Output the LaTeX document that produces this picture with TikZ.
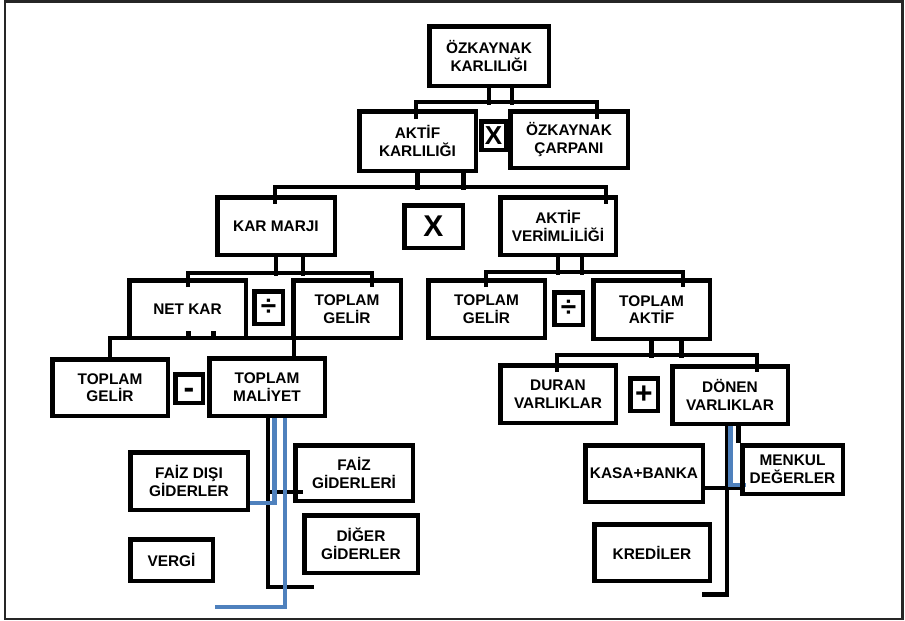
\documentclass[tikz,border=0pt]{standalone}
\usepackage{fontspec}
\setmainfont{Liberation Sans}
\usetikzlibrary{backgrounds}
\definecolor{blueln}{RGB}{79,129,189}
\newcommand{\mybox}[7][]{%
  \node[box,minimum width={(#5-#3-4.5)*1pt},minimum height={(#6-#4-4.5)*1pt},#1] (#2) at ({(#3+#5)/2},{(#4+#6)/2}) {#7};}
\begin{document}
\begin{tikzpicture}[x=1pt,y=-1pt,
  box/.style={draw=black,line width=4.5pt,inner sep=0pt,align=center,font=\fontsize{15.4}{17.5}\selectfont\bfseries},
  opf/.style={font=\fontsize{#1}{#1}\selectfont\bfseries},
  conn/.style={draw=black,line width=4.3pt,line join=miter},
  bconn/.style={draw=blueln,line width=4.3pt,line join=miter}]
\useasboundingbox (0,0) rectangle (905,621);

\mybox{ozk}{427}{24}{551}{88}{ÖZKAYNAK\\KARLILIĞI}
\mybox{akk}{357}{109}{478}{173}{AKTİF\\KARLILIĞI}
\mybox{ozc}{508}{109}{630}{170}{ÖZKAYNAK\\ÇARPANI}
\mybox[opf=26]{xa}{479}{119}{508}{152}{X}
\mybox{km}{215}{195}{337}{257}{KAR MARJI}
\mybox[opf=30]{xb}{402}{203}{465}{250}{X}
\mybox{av}{498}{195}{618}{257}{AKTİF\\VERİMLİLİĞİ}
\mybox{nk}{127}{278}{248}{340}{NET KAR}
\mybox[opf=28]{da}{252}{289}{285}{326}{÷}
\mybox{tga}{291}{278}{403}{340}{TOPLAM\\GELİR}
\mybox{tgb}{426}{278}{547}{340}{TOPLAM\\GELİR}
\mybox[opf=28]{db}{552}{290}{585}{327}{÷}
\mybox{ta}{591}{278}{712}{341}{TOPLAM\\AKTİF}
\mybox{tgc}{50}{357}{170}{418}{TOPLAM\\GELİR}
\mybox[opf=32,text height=20pt,text depth=0pt]{mn}{173}{372}{205}{405}{-}
\mybox{tm}{207}{356}{327}{418}{TOPLAM\\MALİYET}
\mybox{dv}{498}{363}{618}{425}{DURAN\\VARLIKLAR}
\mybox[opf=30]{pl}{628}{376}{660}{413}{+}
\mybox{dn}{670}{364}{790}{426}{DÖNEN\\VARLIKLAR}
\mybox{fdg}{128}{450}{250}{512}{FAİZ DIŞI\\GİDERLER}
\mybox{fg}{293}{443}{415}{503}{FAİZ\\GİDERLERİ}
\mybox{dg}{302}{513}{420}{575}{DİĞER\\GİDERLER}
\mybox{vg}{128}{537}{215}{583}{VERGİ}
\mybox{kb}{583}{443}{705}{504}{KASA+BANKA}
\mybox{md}{740}{443}{845}{496}{MENKUL\\DEĞERLER}
\mybox{kr}{592}{522}{712}{583}{KREDİLER}

\draw[line width=2.6pt,black!85] (5,1.5) rectangle (902.3,619);

\begin{scope}[on background layer]
\fill[white] (0,0) rectangle (905,621);
% A
\coordinate (A1) at (416,102); \coordinate (A2) at (597,102);
\draw[conn] (A1) ++(0,17) -- (A1) -- (A2) -- ++(0,17);
\draw[conn] (ozk.south) -- ++(0,16.5) (ozk.south) ++(23,0) -- ++(0,16.5);
% B
\coordinate (B1) at (275,187); \coordinate (B2) at (606,187);
\draw[conn] (B1) ++(0,17) -- (B1) -- (B2) -- ++(0,17);
\draw[conn] (akk.south) -- ++(0,16.5) (akk.south) ++(46,0) -- ++(0,16.5);
% C
\coordinate (C1) at (188,273); \coordinate (C2) at (372,273);
\draw[conn] (C1) ++(0,14) -- (C1) -- (C2) -- ++(0,14);
\draw[conn] (km.south) -- ++(0,18.5) (km.south) ++(27,0) -- ++(0,18.5);
% D
\coordinate (D1) at (486,272); \coordinate (D2) at (683,272);
\draw[conn] (D1) ++(0,15) -- (D1) -- (D2) -- ++(0,15);
\draw[conn] (av.south) -- ++(0,17.5) (av.south) ++(24,0) -- ++(0,17.5);
% E
\coordinate (E1) at (110,338); \coordinate (E2) at (294,338);
\draw[conn] (E1) ++(0,20) -- (E1) -- (E2) -- ++(0,20);
\draw[conn] (nk.south) ++(1,-9) -- ++(0,9) (nk.south) ++(26,-9) -- ++(0,9);
% F
\coordinate (F1) at (557,355); \coordinate (F2) at (757,355);
\draw[conn] (F1) ++(0,17) -- (F1) -- (F2) -- ++(0,17);
\draw[conn] (ta.south) -- ++(0,16.5) (ta.south) ++(30,0) -- ++(0,16.5);
% G
\coordinate (g1) at (268,587); \coordinate (g3) at (268,492);
\draw[conn] (tm.south -| g1) -- (g1) -- ++(46,0);
\draw[conn] (g3) -- ++(35,0);
\coordinate (g4) at (274.5,503); \coordinate (g5) at (285,607);
\draw[bconn] (tm.south -| g4) -- (g4) -- (fdg.east |- g4);
\draw[bconn] (tm.south -| g5) -- (g5) -- ++(-70,0);
% H
\coordinate (h1) at (727,594.5); \coordinate (h2) at (742,488); \coordinate (h3) at (738.5,443);
\draw[conn] (dn.south -| h1) -- (h1) -- ++(-25,0);
\draw[conn] (kb.east |- h2) -- (h2);
\draw[conn] (dn.south -| h3) -- (h3);
\coordinate (h4) at (730.5,485);
\draw[bconn] (dn.south -| h4) -- (h4) -- ++(15,0);
\end{scope}
\end{tikzpicture}
\end{document}
